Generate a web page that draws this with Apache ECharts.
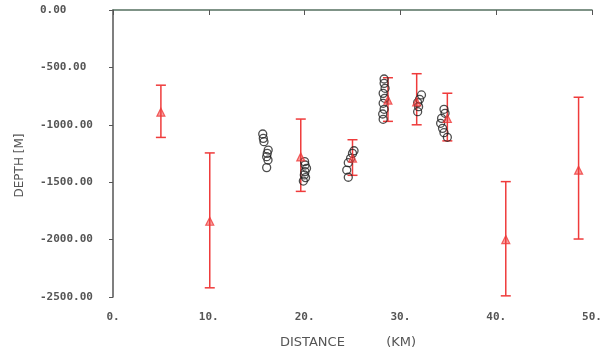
<!DOCTYPE html>
<html><head><meta charset="utf-8">
<script src="https://cdn.jsdelivr.net/npm/echarts@6/dist/echarts.min.js"></script>
<style>html,body{margin:0;padding:0;background:#fff}#c{width:609px;height:358px}</style>
</head><body><div id="c"></div>
<script>
// Error-bar stations (red): distance km, central depth, upper and lower limits (m)
const barX      = [5.0, 10.1, 19.6, 25.0, 28.7, 31.7, 34.9, 41.0, 48.6];
const barMid    = [-890, -1840, -1280, -1290, -785, -800, -945, -2000, -1395];
const barTop    = [-655, -1245, -950, -1130, -590, -555, -725, -1495, -760];
const barBottom = [-1110, -2420, -1580, -1440, -970, -1000, -1140, -2490, -1995];

// Observed points (black circles)
const ptX = [15.63,15.69,15.76,16.2,16.1,16.04,16.18,16.04,
             20.0,20.05,20.2,20.04,19.97,19.87,20.1,
             25.16,25.0,24.8,24.56,24.4,24.56,
             28.3,28.3,28.4,28.2,28.36,28.2,28.3,28.15,28.2,
             32.2,32.0,31.8,31.9,31.8,
             34.55,34.66,34.3,34.2,34.4,34.55,34.9];
const ptY = [-1080,-1118,-1147,-1220,-1249,-1278,-1307,-1373,
             -1321,-1350,-1379,-1408,-1437,-1490,-1460,
             -1226,-1249,-1292,-1330,-1394,-1457,
             -601,-639,-682,-726,-769,-813,-865,-906,-952,
             -740,-778,-807,-842,-886,
             -865,-900,-944,-987,-1031,-1069,-1109];

const yTicks = [0, -500, -1000, -1500, -2000, -2500];
const xTicks = [0, 10, 20, 30, 40, 50];

const red = '#ef3b3b';
const chart = echarts.init(document.getElementById('c'));
chart.setOption({
  animation: false,
  backgroundColor: '#fff',
  grid: {left: 113, right: 17, top: 10, bottom: 61},
  xAxis: {
    type: 'value', min: 0, max: 50, interval: 10,
    name: 'DISTANCE          (KM)', nameLocation: 'middle', nameGap: 39,
    nameTextStyle: {fontFamily: 'DejaVu Sans', fontSize: 13, color: '#555', padding: [0, 9, 0, 0]},
    axisLine: {lineStyle: {color: '#557060', width: 1.5}},
    axisTick: {length: 5, lineStyle: {color: '#555'}},
    axisLabel: {margin: 15, fontFamily: 'DejaVu Sans Mono', fontSize: 11, fontWeight: 'bold', color: '#555',
      formatter: v => xTicks.includes(v) ? v + '.' : ''},
    splitLine: {show: false}
  },
  yAxis: {
    type: 'value', min: -2500, max: 0, interval: 500,
    name: 'DEPTH [M]', nameLocation: 'middle', nameGap: 87, nameRotate: 90,
    nameTextStyle: {fontFamily: 'DejaVu Sans', fontSize: 12, color: '#555', padding: [0, 24, 0, 0]},
    axisLine: {lineStyle: {color: '#555', width: 1.5}},
    axisTick: {length: 4, lineStyle: {color: '#555'}},
    axisLabel: {margin: 73, align: 'left', fontFamily: 'DejaVu Sans Mono', fontSize: 11, fontWeight: 'bold', color: '#555',
      formatter: v => yTicks.includes(v) ? v.toFixed(2) : ''},
    splitLine: {show: false}
  },
  series: [
    {
      type: 'custom',
      data: barX.map((x, i) => [x, barTop[i], barBottom[i]]),
      renderItem: function (params, api) {
        const top = api.coord([api.value(0), api.value(1)]);
        const bot = api.coord([api.value(0), api.value(2)]);
        const w = 5;
        const st = {stroke: red, lineWidth: 1.5};
        return {type: 'group', children: [
          {type: 'line', shape: {x1: top[0], y1: top[1], x2: bot[0], y2: bot[1]}, style: st},
          {type: 'line', shape: {x1: top[0]-w, y1: top[1], x2: top[0]+w, y2: top[1]}, style: st},
          {type: 'line', shape: {x1: bot[0]-w, y1: bot[1], x2: bot[0]+w, y2: bot[1]}, style: st}
        ]};
      },
      z: 2
    },
    {
      type: 'scatter',
      data: ptX.map((x, i) => [x, ptY[i]]),
      symbol: 'circle', symbolSize: 8,
      itemStyle: {color: 'rgba(255,255,255,0)', borderColor: '#222', borderWidth: 1.3},
      z: 3
    },
    {
      type: 'scatter',
      data: barX.map((x, i) => [x, barMid[i]]),
      symbol: 'triangle', symbolSize: [8, 8],
      itemStyle: {color: 'rgba(239,59,59,0.6)', borderColor: red, borderWidth: 1.2},
      z: 4
    }
  ]
});
</script>
</body></html>
